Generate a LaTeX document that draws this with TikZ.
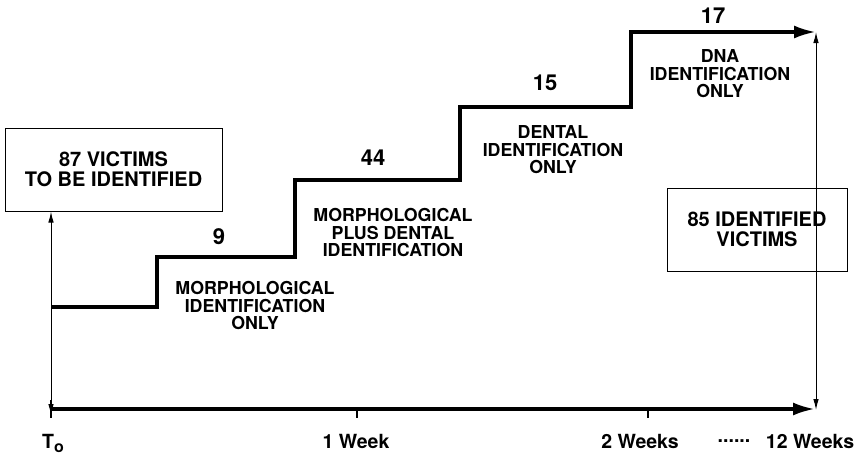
\documentclass[tikz,border=0pt]{standalone}
\usepackage{fontspec}
\setmainfont{TeX Gyre Heros}
\usetikzlibrary{arrows.meta}

\tikzset{
  stepline/.style={line width=3.4pt, line join=miter},
  thinarrow/.style={line width=1pt, {Latex[length=11pt,width=5.5pt]}-{Latex[length=11pt,width=5.5pt]}},
  bigtip/.style={-{Latex[length=22pt,width=13pt]}},
  infobox/.style={draw, line width=1pt, minimum width=217pt, minimum height=83pt, align=center,
    font=\bfseries\fontsize{20}{20}\selectfont},
  steptext/.style={align=center, font=\bfseries\fontsize{17.8}{17.5}\selectfont},
  count/.style={font=\bfseries\fontsize{22}{22}\selectfont},
  timetext/.style={font=\bfseries\fontsize{19.5}{19.5}\selectfont}
}

\begin{document}
\begin{tikzpicture}[x=1pt, y=-1pt]
            \useasboundingbox (0,0) rectangle (859,456);
            % time axis
            \coordinate (t0) at (51,409);
            \coordinate (w1) at (357,409);
            \coordinate (w2) at (648,409);
            \coordinate (w12) at (815,409);
            \draw[stepline, bigtip] (t0) -- (w12);
            \draw[line width=2pt] (51,400) -- (51,418);
            \draw[line width=2pt] (w1) -- ++(0,9);
            \draw[line width=2pt] (w2) -- ++(0,9);
            \node[timetext] (tzero) at (53,443) {T\raisebox{-4pt}{\fontsize{16}{16}\selectfont o}};
            \node[timetext] (week1) at (356,441) {1 Week};
            \node[timetext] (week2) at (640,441) {2 Weeks};
            \node[timetext] (dots) at (734,441) {......};
            \node[timetext] (week12) at (810,441) {12 Weeks};
            % identification steps
            \coordinate (s0) at (51,307);
            \coordinate (s4) at (816,32);
            \draw[stepline, bigtip] (s0) -- (157,307) -- (157,257) -- (295,257) -- (295,180)
                -- (460,180) -- (460,107) -- (631,107) -- (631,32) -- (s4);
            \node[count] (n9) at (219,237) {9};
            \node[count] (n44) at (373,158) {44};
            \node[count] (n15) at (545,83) {15};
            \node[count] (n17) at (713,16) {17};
            \node[steptext] (morph) at (255,306) {MORPHOLOGICAL\\IDENTIFICATION\\ONLY};
            \node[steptext] (plus) at (393,233) {MORPHOLOGICAL\\PLUS DENTAL\\IDENTIFICATION};
            \node[steptext] (dental) at (553,150) {DENTAL\\IDENTIFICATION\\ONLY};
            \node[steptext] (dna) at (720,74) {DNA\\IDENTIFICATION\\ONLY};
            % victims
            \node[infobox] (start) at (113.5,169.5) {87 VICTIMS\\TO BE IDENTIFIED};
            \node[infobox, minimum width=180pt] (done) at (757,229.5) {85 IDENTIFIED\\VICTIMS};
            \draw[thinarrow] (start.south -| t0) -- ([yshift=-6pt]t0);
            \draw[thinarrow] (s4) -- ([yshift=-1pt]w12 -| s4);
\end{tikzpicture}
\end{document}
